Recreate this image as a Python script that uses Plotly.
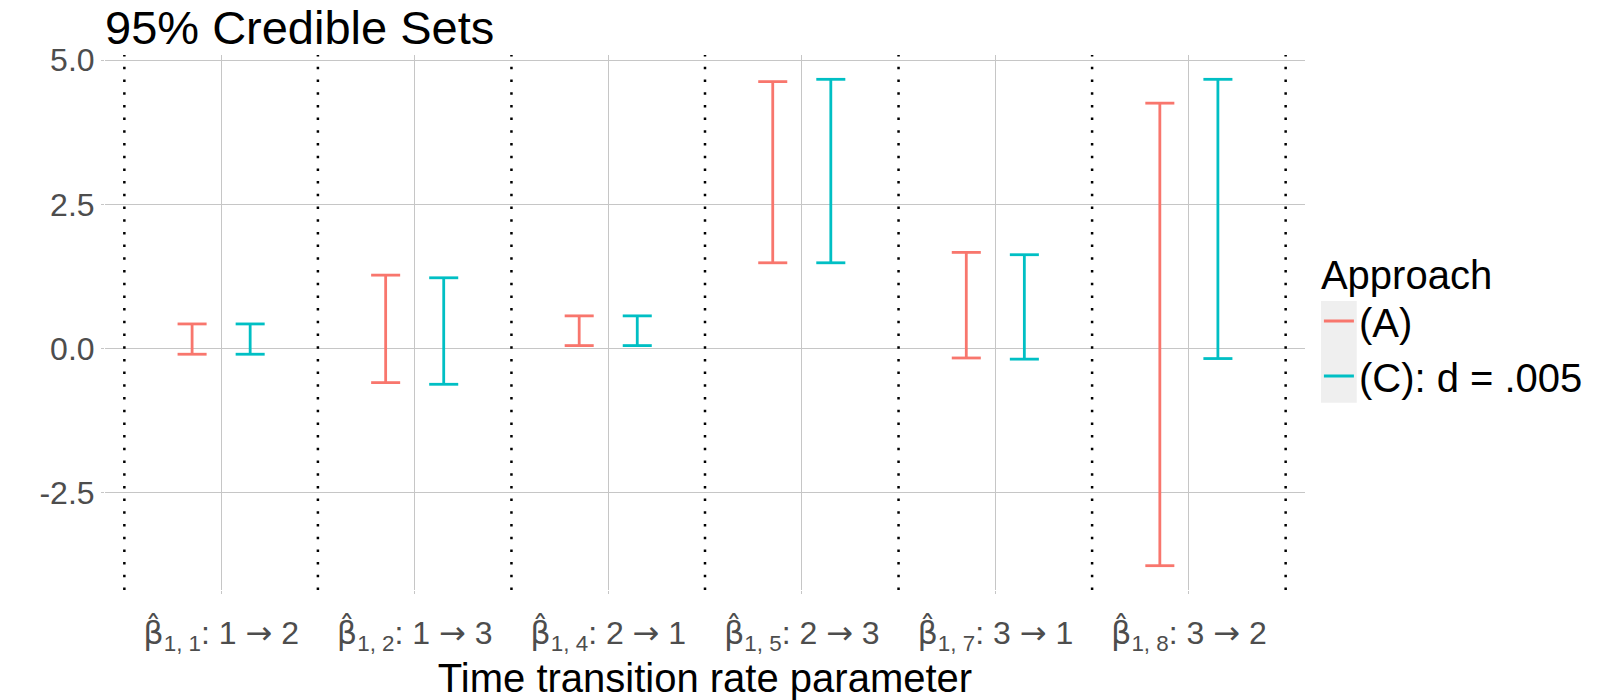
import plotly.graph_objects as go

# ---- data ----
HB = "<span style=\"font-family:'DejaVu Sans'\">β\u0302</span>"
AR = "<span style=\"font-family:'DejaVu Sans'\">→</span>"
categories = [
    HB + "<sub>1, 1</sub>: 1 " + AR + " 2",
    HB + "<sub>1, 2</sub>: 1 " + AR + " 3",
    HB + "<sub>1, 4</sub>: 2 " + AR + " 1",
    HB + "<sub>1, 5</sub>: 2 " + AR + " 3",
    HB + "<sub>1, 7</sub>: 3 " + AR + " 1",
    HB + "<sub>1, 8</sub>: 3 " + AR + " 2",
]
approaches = ["(A)", "(C): d = .005"]
lower_A = [-0.095, -0.587, 0.055, 1.49, -0.16, -3.76]
upper_A = [0.43, 1.276, 0.57, 4.63, 1.67, 4.257]
lower_C = [-0.095, -0.616, 0.055, 1.49, -0.18, -0.17]
upper_C = [0.43, 1.23, 0.57, 4.67, 1.63, 4.67]
y_ticks = [-2.5, 0.0, 2.5, 5.0]

colors = ["#F8766D", "#00BFC4"]
dodge = [-0.15, 0.15]
cap = 0.075

fig = go.Figure()

series = [(lower_A, upper_A), (lower_C, upper_C)]
for k, (lo, hi) in enumerate(series):
    xs, ys = [], []
    for i in range(len(categories)):
        xc = i + 1 + dodge[k]
        xs += [xc - cap, xc + cap, None, xc, xc, None, xc - cap, xc + cap, None]
        ys += [hi[i], hi[i], None, hi[i], lo[i], None, lo[i], lo[i], None]
    fig.add_trace(go.Scatter(
        x=xs, y=ys, mode="lines", name=approaches[k],
        line=dict(color=colors[k], width=2.8),
        connectgaps=False, hoverinfo="skip",
    ))

# dotted separators between categories
for b in range(len(categories) + 1):
    fig.add_shape(type="line", xref="x", yref="paper",
                  x0=b + 0.5, x1=b + 0.5, y0=0, y1=1,
                  line=dict(color="black", width=2.5, dash="2.5px,10.2px"),
                  layer="above")

# light grey legend-key background (ggplot style)
fig.add_shape(type="rect", xref="paper", yref="paper",
              x0=1.0133, x1=1.0431, y0=0.35, y1=0.54,
              fillcolor="#EFEFEF", line=dict(width=0), layer="below")

ymin = min(lower_A + lower_C)
ymax = max(upper_A + upper_C)
pad = 0.05 * (ymax - ymin)

W, H = 1600, 700
fig.update_layout(
    width=W, height=H,
    paper_bgcolor="white", plot_bgcolor="white",
    margin=dict(l=104.5, r=288, t=55, b=110, pad=0),
    font=dict(family="Liberation Sans, Arial, sans-serif", color="black"),
    title=dict(text="95% Credible Sets", font=dict(size=47, color="black"),
               x=0.0, xref="paper", xanchor="left",
               y=1 - 44 / H, yref="container", yanchor="bottom", pad=dict(l=0, t=0, b=0)),
    legend=dict(title=dict(text="Approach", font=dict(size=40)),
                font=dict(size=40), x=1.0116, xanchor="left", y=0.5, yanchor="middle",
                itemwidth=30, tracegroupgap=0, bgcolor="rgba(0,0,0,0)"),
    xaxis=dict(range=[0.4, len(categories) + 0.6],
               tickvals=list(range(1, len(categories) + 1)), ticktext=categories,
               tickfont=dict(size=32, color="#4D4D4D"),
               showgrid=True, gridcolor="#C6C6C6", gridwidth=1.3,
               zeroline=False, showline=False,
               ticks="outside", ticklen=3, tickcolor="#C6C6C6", tickwidth=1.3,
               ticklabelstandoff=12,
               title=dict(text="Time transition rate parameter", font=dict(size=40), standoff=0)),
    yaxis=dict(range=[ymin - pad, ymax + pad],
               tickvals=y_ticks, ticktext=[f"{v:.1f}" for v in y_ticks],
               tickfont=dict(size=32, color="#4D4D4D"),
               showgrid=True, gridcolor="#C6C6C6", gridwidth=1.3,
               zeroline=False, showline=False,
               ticks="outside", ticklen=3, tickcolor="#C6C6C6", tickwidth=1.3),
)

fig.write_html("out.html", config={"displayModeBar": False},
               post_script="document.body.style.margin='0px';")
